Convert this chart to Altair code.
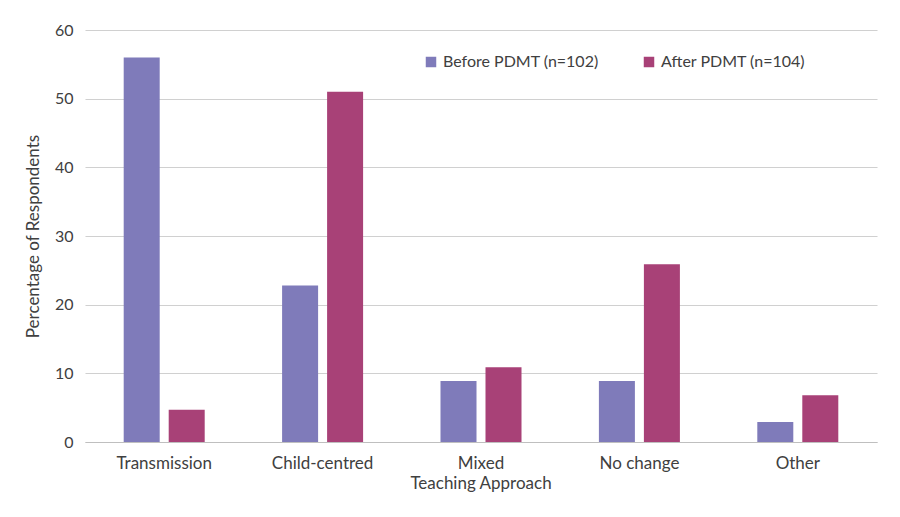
import altair as alt
import pandas as pd

categories = ["Transmission", "Child-centred", "Mixed\nTeaching Approach", "No change", "Other"]
series = ["Before PDMT (n=102)", "After PDMT (n=104)"]
before = [56, 22.8, 8.9, 8.9, 2.9]
after = [4.7, 51, 10.9, 25.9, 6.8]

rows = []
for c, b, a in zip(categories, before, after):
    rows.append({"cat": c, "series": series[0], "value": b})
    rows.append({"cat": c, "series": series[1], "value": a})
df = pd.DataFrame(rows)

FONT = "Lato"

chart = alt.Chart(df).mark_bar().encode(
    x=alt.X("cat:N", sort=categories, title=None,
            scale=alt.Scale(paddingInner=0, paddingOuter=0),
            axis=alt.Axis(labelAngle=0, labelExpr="split(datum.value, '\\n')",
                          labelFontSize=17, labelColor="#404040", labelFont=FONT,
                          labelPadding=13, labelLineHeight=20, ticks=False,
                          domainColor="#bfbfbf", grid=False)),
    xOffset=alt.XOffset("series:N", sort=series,
                        scale=alt.Scale(paddingInner=0.2, paddingOuter=0.86)),
    y=alt.Y("value:Q", title="Percentage of Respondents",
            scale=alt.Scale(domain=[0, 60], nice=False),
            axis=alt.Axis(values=[0, 10, 20, 30, 40, 50, 60], domain=False, ticks=False,
                          labelFontSize=16, labelColor="#404040", labelFont=FONT,
                          labelPadding=12, titleFontSize=17, titleFont=FONT,
                          titleColor="#404040", titleFontWeight="normal", titlePadding=12,
                          gridColor="#d0d0d0", gridWidth=1.2)),
    color=alt.Color("series:N", sort=series,
                    scale=alt.Scale(domain=series, range=["#7F7BBA", "#A84177"]),
                    legend=alt.Legend(title=None, orient="none", legendX=338, legendY=24,
                                      direction="horizontal", symbolType="square",
                                      symbolSize=110, symbolStrokeWidth=0,
                                      labelFontSize=16, labelFont=FONT, labelColor="#404040",
                                      columnPadding=42, labelOffset=4, symbolOpacity=1)),
).properties(
    width=792, height=412,
    background="white",
    autosize=alt.AutoSizeParams(type="none"),
    padding={"left": 77, "top": 22, "right": 15, "bottom": 50},
).configure_view(stroke=None)

chart.save("out.html", embed_options={"renderer": "svg", "actions": False})
